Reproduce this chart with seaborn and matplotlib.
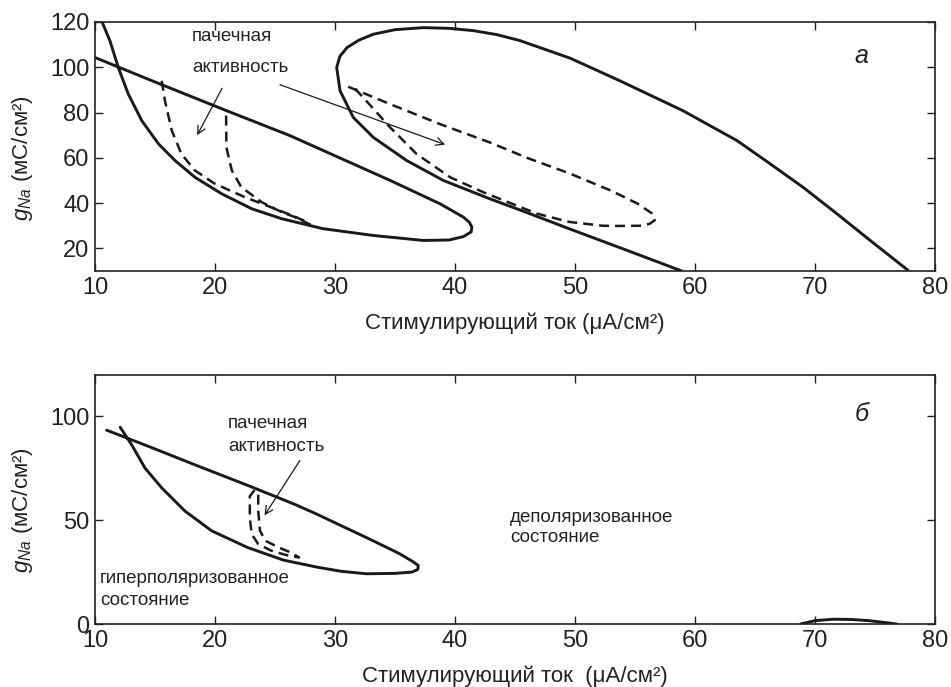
import numpy as np
import pandas as pd
import matplotlib
matplotlib.use("Agg")
import matplotlib.pyplot as plt
import seaborn as sns

# ---------------- data (panel а) ----------------
# left loop: steep branch -> lower part -> nose -> upper straight branch
a1_x = [10.56, 11.25, 11.94, 12.78, 13.9, 15.3, 16.67, 18.33, 20.56, 23.06, 25.56, 29.0, 33.2, 37.36,
        39.5, 40.7, 41.35, 41.4, 41.2, 40.7, 38.75, 34.6, 30.0, 26.25, 20.83, 15.0, 10.0]
a1_y = [120.4, 111.6, 99.9, 88.1, 76.4, 66.1, 58.8, 51.4, 44.1, 37.5, 33.1, 28.7, 25.7, 23.5,
        23.7, 25.2, 27.3, 29.4, 31.5, 33.8, 39.7, 50.0, 60.9, 69.8, 81.1, 93.5, 104.3]

# big loop: lower branch -> left turn -> top -> descending right branch
a2_x = [58.9, 54.0, 49.6, 46.0, 42.9, 39.03, 35.97, 33.2, 31.53, 30.42, 30.14, 30.4, 31.0, 32.0, 33.2,
        35.0, 37.36, 39.5, 41.5, 43.5, 45.4, 49.6, 53.75, 59.0, 63.5, 66.25, 69.0, 71.8, 74.6, 77.75]
a2_y = [10.0, 19.8, 28.5, 35.8, 41.9, 50.0, 58.8, 69.0, 77.8, 89.6, 99.9, 104.8, 108.7, 112.0, 114.6,
        116.6, 117.5, 117.2, 116.2, 114.4, 111.8, 104.0, 94.0, 80.8, 67.6, 57.4, 47.0, 35.4, 23.5, 10.3]

# dashed pair inside the left loop
a3_x = [15.56, 15.83, 16.4, 17.2, 18.33, 20.0, 22.5, 25.0, 26.67, 27.8, 27.9, 26.67, 25.56, 23.9,
        22.2, 21.4, 20.95, 20.92]
a3_y = [94.0, 85.2, 72.0, 61.7, 54.4, 48.5, 42.6, 37.5, 34.0, 31.3, 30.6, 33.8, 36.0, 40.4,
        47.0, 54.4, 64.6, 80.8]

# dashed loop inside the big loop
a4_x = [31.1, 34.6, 38.75, 42.9, 46.0, 49.6, 53.0, 55.2, 56.4, 56.65, 56.2, 55.4, 53.5, 52.3, 49.5,
        46.8, 44.0, 42.36, 39.6, 36.8, 34.6, 32.6, 31.5]
a4_y = [91.4, 83.7, 74.9, 66.8, 60.0, 53.0, 45.5, 39.8, 35.5, 32.5, 30.8, 30.0, 29.9, 30.0, 31.7,
        35.4, 41.3, 44.8, 51.4, 61.7, 73.4, 85.2, 91.5]

# ---------------- data (panel б) ----------------
b1_x = [10.97, 14.5, 18.33, 22.9, 26.67, 28.5, 30.5, 32.6, 34.2, 35.4, 36.5, 36.94, 36.9, 36.4,
        35.0, 32.6, 30.5, 28.5, 25.7, 22.7, 19.72, 17.5, 15.56, 14.17, 13.06, 12.1]
b1_y = [93.4, 85.5, 76.7, 66.4, 57.6, 52.9, 47.4, 41.7, 37.2, 33.8, 30.0, 28.2, 26.3, 25.0,
        24.4, 24.2, 25.4, 27.4, 30.8, 36.9, 44.9, 54.4, 65.6, 75.1, 86.3, 94.8]

# dashed pair (two near-vertical branches meeting at the lower end)
b2_x = [23.3, 22.9, 22.9, 23.06, 23.6, 24.7, 25.7, 26.4, 27.0, 26.3, 25.3, 24.2, 23.75, 23.6, 23.6]
b2_y = [64.5, 61.6, 51.2, 43.3, 38.5, 35.3, 33.6, 32.6, 32.1, 34.5, 36.9, 40.1, 44.9, 54.4, 64.5]

# small arc near the x axis
b3_x = [68.8, 70.0, 71.5, 73.0, 74.5, 76.0, 76.8]
b3_y = [0.0, 1.6, 2.3, 2.2, 1.6, 0.6, 0.0]

x_ticks = [10, 20, 30, 40, 50, 60, 70, 80]
ya_ticks = [20, 40, 60, 80, 100, 120]
yb_ticks = [0, 50, 100]

xlabel_a = "Стимулирующий ток (μA/см²)"
xlabel_b = "Стимулирующий ток  (μA/см²)"
ylabel = r"$g_{Na}$ (мС/см²)"

# ---------------- style ----------------
sns.set_theme(style="ticks")
plt.rcParams["font.family"] = ["Liberation Sans", "DejaVu Sans"]
plt.rcParams["mathtext.fontset"] = "custom"
plt.rcParams["mathtext.rm"] = "Liberation Sans"
plt.rcParams["mathtext.it"] = "Liberation Sans:italic"
plt.rcParams["axes.edgecolor"] = "#222222"
plt.rcParams["axes.linewidth"] = 1.2

INK = "#1a1a1a"
GREY = "#222222"
LW = 2.1
DASH = (0, (4.0, 2.4))

fig = plt.figure(figsize=(9.51, 6.87), dpi=100)
ax_a = fig.add_axes([0.0999, 0.6055, 0.8833, 0.3625])
ax_b = fig.add_axes([0.0999, 0.0917, 0.8833, 0.3625])


def curve(ax, xs, ys, dashed=False):
    df = pd.DataFrame({"x": xs, "y": ys})
    kw = dict(linestyle=DASH, linewidth=1.8) if dashed else dict(linewidth=LW)
    sns.lineplot(data=df, x="x", y="y", sort=False, estimator=None, color=INK, ax=ax, **kw)


curve(ax_a, a1_x, a1_y)
curve(ax_a, a2_x, a2_y)
curve(ax_a, a3_x, a3_y, dashed=True)
curve(ax_a, a4_x, a4_y, dashed=True)

curve(ax_b, b1_x, b1_y)
curve(ax_b, b2_x, b2_y, dashed=True)
curve(ax_b, b3_x, b3_y)

for ax, yt, ylim, xl, ly in [(ax_a, ya_ticks, (10, 120), xlabel_a, 0.452),
                             (ax_b, yb_ticks, (0, 120), xlabel_b, 0.458)]:
    ax.set_xlim(10, 80)
    ax.set_ylim(*ylim)
    ax.set_xticks(x_ticks)
    ax.set_yticks(yt)
    ax.tick_params(direction="in", top=True, right=True, length=6, width=1.0,
                   labelsize=17, colors=GREY, pad=4)
    ax.tick_params(labeltop=False, labelright=False)
    ax.set_xlabel(xl, fontsize=16, color=GREY, labelpad=10)
    ax.set_ylabel(ylabel, fontsize=16, color=GREY)
    ax.yaxis.set_label_coords(-0.072, ly)
    for s in ax.spines.values():
        s.set_visible(True)

TXT = dict(fontsize=13.5, color=GREY, ha="left", va="center")
ARROW = dict(arrowstyle="->", color=INK, lw=0.9, mutation_scale=14)

# panel а annotations
ax_a.text(18.1, 113.8, "пачечная", **TXT)
ax_a.text(18.1, 99.7, "активность", **TXT)
ax_a.annotate("", xy=(18.4, 68.9), xytext=(20.7, 91.8), arrowprops=ARROW)
ax_a.annotate("", xy=(39.4, 65.4), xytext=(25.2, 92.7), arrowprops=ARROW)
ax_a.text(73.9, 105, "а", fontsize=18, style="italic", color=GREY, ha="center", va="center")

# panel б annotations
ax_b.text(21.1, 96.6, "пачечная", **TXT)
ax_b.text(21.1, 85.5, "активность", **TXT)
ax_b.annotate("", xy=(24.0, 51.2), xytext=(27.2, 79.9), arrowprops=ARROW)
ax_b.text(10.4, 21.8, "гиперполяризованное", **TXT)
ax_b.text(10.4, 11.5, "состояние", **TXT)
ax_b.text(44.6, 51.2, "деполяризованное", **TXT)
ax_b.text(44.6, 41.7, "состояние", **TXT)
ax_b.text(73.9, 101, "б", fontsize=18, style="italic", color=GREY, ha="center", va="center")

fig.savefig("out.png", dpi=100)
